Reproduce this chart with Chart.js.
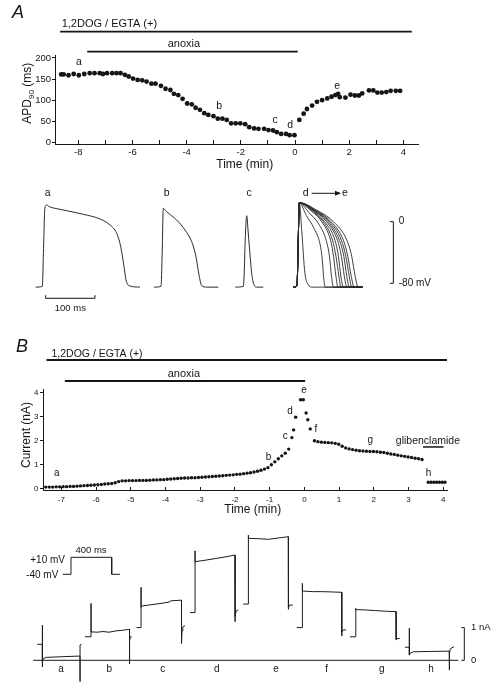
<!DOCTYPE html>
<html><head><meta charset="utf-8">
<script src="https://cdn.jsdelivr.net/npm/chart.js@4.4.1/dist/chart.umd.min.js"></script>
<style>
html,body{margin:0;padding:0;background:#fff;}
body{width:498px;height:690px;position:relative;overflow:hidden;}
canvas{position:absolute;left:0;}
</style></head><body>
<canvas id="cA" width="460" height="182" style="top:0px"></canvas>
<canvas id="cTA" width="460" height="135" style="top:185px"></canvas>
<canvas id="cB" width="470" height="185" style="top:335px"></canvas>
<canvas id="cTB" width="498" height="165" style="top:525px"></canvas>
<script>
// ================= DATA =================
// Panel A : APD90 (ms) vs time (min)
const apdTime = [-8.63,-8.54,-8.36,-8.17,-7.98,-7.78,-7.58,-7.40,-7.21,-7.09,-6.94,-6.75,-6.59,-6.44,-6.28,-6.14,-5.98,-5.81,-5.64,-5.48,-5.30,-5.15,-4.95,-4.78,-4.60,-4.47,-4.31,-4.15,-3.98,-3.81,-3.67,-3.51,-3.35,-3.20,-3.01,-2.85,-2.68,-2.52,-2.36,-2.19,-2.02,-1.84,-1.69,-1.51,-1.35,-1.14,-0.98,-0.81,-0.67,-0.51,-0.33,-0.20,-0.02,0.16,0.32,0.44,0.63,0.81,1.00,1.19,1.35,1.49,1.59,1.65,1.86,2.05,2.21,2.36,2.48,2.73,2.89,3.04,3.20,3.37,3.53,3.72,3.88];
const apdValue = [161,161,159,162,159,162,164,164,164,162,164,164,164,164,160,156,151,148,147,144,139,139,134,127,124,115,112,103,92,90,82,77,69,65,62,56,56,53,45,45,45,43,36,33,32,32,29,28,24,20,20,17,17,53,68,79,87,96,100,104,108,112,115,107,106,113,111,111,116,123,123,118,118,119,122,122,122];
const apdLabels = ['a','b','c','d','e'];
const apdLabelTime = [-7.98,-2.80,-0.73,-0.18,1.56];
const apdLabelValue = [190,87,53,40,133];
const apdTicksX = [-8,-7,-6,-5,-4,-3,-2,-1,0,1,2,3,4];
const apdTickLabelsX = [-8,-6,-4,-2,0,2,4];
const apdTicksY = [0,50,100,150,200];

// Panel B : current (nA) vs time (min)
const curTime = [-7.45,-7.35,-7.25,-7.15,-7.05,-6.95,-6.85,-6.75,-6.65,-6.55,-6.45,-6.35,-6.25,-6.15,-6.05,-5.95,-5.85,-5.75,-5.65,-5.55,-5.45,-5.35,-5.25,-5.15,-5.05,-4.95,-4.85,-4.75,-4.65,-4.55,-4.45,-4.35,-4.25,-4.15,-4.05,-3.95,-3.85,-3.75,-3.65,-3.55,-3.45,-3.35,-3.25,-3.15,-3.05,-2.95,-2.85,-2.75,-2.65,-2.55,-2.45,-2.35,-2.25,-2.15,-2.05,-1.95,-1.85,-1.75,-1.65,-1.55,-1.45,-1.35,-1.25,-1.15,-1.05,-0.95,-0.85,-0.75,-0.65,-0.55,-0.45,
  -0.36,-0.31,-0.25,-0.11,-0.03,0.05,0.10,0.17,
  0.29,0.39,0.49,0.59,0.69,0.79,0.89,0.99,1.09,1.19,1.29,1.39,1.49,1.59,1.69,1.79,1.89,1.99,2.09,2.19,2.29,2.39,2.49,2.59,2.69,2.79,2.89,2.99,3.09,3.19,3.29,3.39,
  3.57,3.65,3.73,3.81,3.89,3.97,4.05];
const curValue = [0.07,0.07,0.07,0.08,0.08,0.09,0.09,0.10,0.10,0.11,0.12,0.13,0.14,0.15,0.16,0.17,0.18,0.20,0.21,0.22,0.25,0.30,0.33,0.33,0.34,0.34,0.34,0.35,0.35,0.35,0.36,0.37,0.37,0.38,0.38,0.40,0.41,0.42,0.43,0.44,0.45,0.45,0.46,0.46,0.47,0.48,0.49,0.50,0.51,0.52,0.53,0.54,0.56,0.57,0.58,0.60,0.61,0.63,0.65,0.67,0.70,0.73,0.77,0.82,0.88,1.00,1.12,1.25,1.37,1.48,1.65,
  2.13,2.45,2.98,3.70,3.70,3.15,2.87,2.49,
  2.00,1.96,1.94,1.93,1.92,1.91,1.89,1.85,1.77,1.70,1.66,1.63,1.60,1.58,1.57,1.56,1.55,1.55,1.54,1.52,1.51,1.48,1.45,1.43,1.40,1.37,1.35,1.32,1.30,1.27,1.25,1.22,
  0.27,0.27,0.27,0.27,0.27,0.27,0.27];
const curLabels = ['a','b','c','d','e','f','g','h'];
const curLabelTime = [-7.13,-1.03,-0.55,-0.41,-0.01,0.33,1.90,3.58];
const curLabelValue = [0.63,1.33,2.20,3.24,4.10,2.49,2.00,0.63];
const curTicksX = [-7,-6,-5,-4,-3,-2,-1,0,1,2,3,4];
const curTicksY = [0,1,2,3,4];

// Treatments (min)
const treatNames = ['1,2DOG / EGTA (+)','anoxia'];
const treatStartA = [-8.67,-7.67], treatEndA = [4.31,0.10];
const treatStartB = [-7.43,-6.90], treatEndB = [4.11,0.02];
const glibName = 'glibenclamide', glibStart = 3.42, glibEnd = 4.01;

// Action potentials (ms from upstroke, mV)
const apA_t = [-14.2,-0.8,1.6,4.3,8.1,12.8,35.1,48.7,82.4,116.2,136.5,150,158.2,164.9,168.9,177,197.3];
const apA_v = [-85,-84,-35,17.8,21.7,19.7,16.1,14.3,9.6,3.5,-4.3,-15,-32.5,-58.4,-75.7,-83.5,-85];
const apB_t = [-15.6,-1.4,1,3.2,10.1,30.4,47.3,60.9,69.6,75.7,81.1,91.3,114.9];
const apB_v = [-85,-84,-40,17.4,13,2.2,-10.8,-26,-45.5,-69.2,-83,-85,-85];
const apC_t = [-17.2,-1,1,2.8,5.9,8.5,11.2,16,20.7,26.2,39.6];
const apC_v = [-85,-84,-62.7,-23.8,7.8,-10.8,-32.5,-67,-82.2,-85,-85];
const apDE_t = [
  [-9.5,-2,0,2.6,7.5,14,21,28,131],
  [-9.5,-2,0,2.6,17,32,45,49,52,55,131],
  [-9.5,-2,0,2.6,22,42,58,64,68,72,131],
  [-9.5,-2,0,2.6,25,48,66,72,77,81,131],
  [-9.5,-2,0,2.6,27,51,70,77,83,87,131],
  [-9.5,-2,0,2.6,29,54,75,82,87,92,131],
  [-9.5,-2,0,2.6,31,58,80,88,94,99,131],
  [-9.5,-2,0,2.6,32,61,84,93,99,104,131],
  [-9.5,-2,0,2.6,34,64,88,97,104,109,131],
  [-9.5,-2,0,2.6,35,67,92,101,108,114,131],
  [-9.5,-2,0,2.6,38,72,99,109,116,122,131]
];
const apDE_v = [
  [-85,-83,-40,24.7,-11,-67,-82,-85,-85],
  [-85,-83,-40,24.7,8,-8,-30,-48,-72,-85,-85],
  [-85,-83,-40,24.7,12,-3,-26,-46,-71,-85,-85],
  [-85,-83,-40,24.7,15,0,-24,-45,-71,-85,-85],
  [-85,-83,-40,24.7,15,0,-24,-45,-71,-85,-85],
  [-85,-83,-40,24.7,15,0,-24,-45,-71,-85,-85],
  [-85,-83,-40,24.7,15,0,-24,-45,-71,-85,-85],
  [-85,-83,-40,24.7,15,0,-24,-45,-71,-85,-85],
  [-85,-83,-40,24.7,15,0,-24,-45,-71,-85,-85],
  [-85,-83,-40,24.7,15,0,-24,-45,-71,-85,-85],
  [-85,-83,-40,24.7,15,0,-24,-45,-71,-85,-85]
];
const apNames = ['a','b','c','d','e'];

// Membrane currents (ms from step onset, nA)
const imA_t = [-50,0,0,1,3,10,40,200,377,377,378,392];
const imA_v = [0.49,0.49,1.08,-0.2,-0.05,0.05,0.09,0.11,0.13,-0.65,0.47,0.49];
const imB_t = [-60,0,0,1,60,120,180,250,320,385,385,386,395,407];
const imB_v = [0.72,0.72,1.74,0.87,0.86,0.88,0.86,0.90,0.92,0.95,-0.11,0.62,0.72,0.72];
const imC_t = [-45,0,0,1,10,100,200,280,300,405,405,410,418,440];
const imC_v = [1.0,1.0,2.23,1.62,1.66,1.70,1.74,1.78,1.82,1.84,0.52,0.90,1.02,1.06];
const imD_t = [-50,0,0,1,10,100,200,300,400,400,402,410,433];
const imD_v = [1.46,1.46,3.35,3.00,3.02,3.06,3.11,3.16,3.22,1.18,1.35,1.50,1.54];
const imE_t = [-50,0,0,2,100,200,300,400,400,403,415,444];
const imE_v = [1.72,1.72,3.83,3.73,3.72,3.70,3.74,3.78,1.56,1.62,1.69,1.69];
const imF_t = [-56,0,0,2,100,200,300,394,394,396,410,437];
const imF_v = [1.0,1.0,2.35,2.12,2.10,2.10,2.09,2.08,0.74,0.86,0.93,0.93];
const imG_t = [-57,0,0,2,100,200,300,403,403,406,440];
const imG_v = [0.72,0.72,1.59,1.55,1.54,1.52,1.50,1.49,0.62,0.66,0.67];
const imH_t = [-43,0,0,1,10,40,200,400,400,402,410,447];
const imH_v = [0.40,0.40,0.98,0.16,0.22,0.26,0.27,0.28,-0.30,0.20,0.35,0.42];
const imNames = ['a','b','c','d','e','f','g','h'];

// Voltage protocol (ms, mV)
const protT = [0,83,83,490,490,573];
const protV = [-40,-40,10,10,-40,-40];

// ================= LAYOUT / STYLE =================
const INK = '#151515';
const FONT = "'Liberation Sans', Arial, Helvetica, sans-serif";
Chart.defaults.font.family = FONT;
Chart.defaults.color = INK;
const apOffsets = [25.8, 267.1, 433.7, 543.6];          // placement of each AP (ms on shared axis)
const imOffsets = [123, 610, 1110, 1650, 2183, 2723, 3257, 3793]; // placement of each current trace
const protOffset = 327;

function txt(ctx, s, x, y, size, align, opts) {
  opts = opts || {};
  ctx.save();
  ctx.font = (opts.italic ? 'italic ' : '') + size + 'px ' + FONT;
  ctx.fillStyle = INK; ctx.textAlign = align || 'center'; ctx.textBaseline = 'middle';
  if (opts.rotate) { ctx.translate(x, y); ctx.rotate(opts.rotate); ctx.fillText(s, 0, 0); }
  else ctx.fillText(s, x, y);
  ctx.restore();
}
function seg(ctx, x1, y1, x2, y2, w) {
  ctx.save(); ctx.strokeStyle = INK; ctx.lineWidth = w || 1;
  ctx.beginPath(); ctx.moveTo(x1, y1); ctx.lineTo(x2, y2); ctx.stroke(); ctx.restore();
}
const base = {responsive:false, animation:false, devicePixelRatio:1, events:[],
  plugins:{legend:{display:false}, tooltip:{enabled:false}}};

// ================= PANEL A : APD90 =================
const overlayA = {id:'ovA', afterDraw(chart){
  const ctx = chart.ctx, xs = chart.scales.x, ys = chart.scales.y;
  txt(ctx, 'A', 18, 13, 18, 'center', {italic:true});
  const rowY = [31.7, 51.7];
  for (let i = 0; i < treatNames.length; i++)
    seg(ctx, xs.getPixelForValue(treatStartA[i]), rowY[i], xs.getPixelForValue(treatEndA[i]), rowY[i], 1.8);
  txt(ctx, treatNames[0], xs.getPixelForValue(treatStartA[0]) + 1.5, 24.3, 11, 'left');
  txt(ctx, treatNames[1], xs.getPixelForValue(-4.1), 44.3, 11);
  apdLabels.forEach((l, i) => txt(ctx, l, xs.getPixelForValue(apdLabelTime[i]), ys.getPixelForValue(apdLabelValue[i]), 10.5));
  txt(ctx, 'Time (min)', 244.7, 164.3, 12);
  // y title APD90 (ms)
  ctx.save(); ctx.translate(26.7, 93.3); ctx.rotate(-Math.PI/2);
  ctx.fillStyle = INK; ctx.textBaseline = 'alphabetic'; ctx.textAlign = 'left';
  ctx.font = '12px ' + FONT; const w1 = ctx.measureText('APD').width, w3 = ctx.measureText(' (ms)').width;
  ctx.font = '8px ' + FONT; const w2 = ctx.measureText('90').width;
  let x0 = -(w1 + w2 + w3) / 2;
  ctx.font = '12px ' + FONT; ctx.fillText('APD', x0, 4.5);
  ctx.font = '8px ' + FONT; ctx.fillText('90', x0 + w1, 7.5);
  ctx.font = '12px ' + FONT; ctx.fillText(' (ms)', x0 + w1 + w2, 4.5);
  ctx.restore();
}};
new Chart(document.getElementById('cA'), {
  type:'scatter',
  data:{datasets:[{data: apdTime.map((t, i) => ({x:t, y:apdValue[i]})),
    pointRadius:2.4, pointHoverRadius:2.4, backgroundColor:INK, borderWidth:0, clip:false}]},
  options:Object.assign({}, base, {
    layout:{padding:{top:55, right:42, bottom:0, left:0}},
    scales:{
      x:{type:'linear', min:-8.86, max:4.54,
        afterBuildTicks:s => { s.ticks = apdTicksX.map(v => ({value:v})); },
        afterFit:s => { s.height = 38; },
        ticks:{autoSkip:false, maxRotation:0, padding:7, font:{size:9.5}, color:INK,
          callback:v => apdTickLabelsX.includes(v) ? String(v) : ''},
        grid:{drawOnChartArea:false, drawTicks:true, tickLength:-4, color:INK, lineWidth:1},
        border:{display:true, color:INK, width:1}},
      y:{type:'linear', min:-4, max:207,
        afterBuildTicks:s => { s.ticks = apdTicksY.map(v => ({value:v})); },
        afterFit:s => { s.width = 55; },
        ticks:{autoSkip:false, padding:1, font:{size:9.5}, color:INK},
        grid:{drawOnChartArea:false, drawTicks:true, tickLength:3, color:INK, lineWidth:1},
        border:{display:true, color:INK, width:1}}
    }}),
  plugins:[overlayA]
});

// ================= PANEL A : action potentials =================
function traceSet(ts, vs, off, smooth, w) {
  return {data: ts.map((t, i) => ({x:t + off, y:vs[i]})), showLine:true, borderColor:'#2a2a2a',
    borderWidth:w || 1, pointRadius:0, pointHoverRadius:0, tension:0,
    cubicInterpolationMode: smooth ? 'monotone' : 'default', fill:false};
}
const apSets = [traceSet(apA_t, apA_v, apOffsets[0], true), traceSet(apB_t, apB_v, apOffsets[1], true),
  traceSet(apC_t, apC_v, apOffsets[2], true)];
apDE_t.forEach((ts, k) => apSets.push(traceSet(ts, apDE_v[k], apOffsets[3], true, 0.9)));
const overlayTA = {id:'ovTA', afterDraw(chart){
  const ctx = chart.ctx, xs = chart.scales.x, ys = chart.scales.y;
  const X = v => xs.getPixelForValue(v), Y = v => ys.getPixelForValue(v);
  const ly = Y(36.9);
  txt(ctx, 'a', X(35.9), ly, 10.5); txt(ctx, 'b', X(277.3), ly, 10.5); txt(ctx, 'c', X(444.2), ly, 10.5);
  txt(ctx, 'd', X(559.2), ly, 10.5); txt(ctx, 'e', X(639), ly, 10.5);
  seg(ctx, X(571.4), ly, X(628.8), ly, 1);
  ctx.save(); ctx.fillStyle = INK; ctx.beginPath();
  ctx.moveTo(X(628.8) + 1, ly); ctx.lineTo(X(628.8) - 5, ly - 2.5); ctx.lineTo(X(628.8) - 5, ly + 2.5); ctx.closePath(); ctx.fill(); ctx.restore();
  // 100 ms bar
  seg(ctx, X(31.8), Y(-99.5), X(131.8), Y(-99.5), 1);
  seg(ctx, X(31.8), Y(-99.5), X(31.8), Y(-95.5), 1);
  seg(ctx, X(131.8), Y(-99.5), X(131.8), Y(-95.5), 1);
  txt(ctx, '100 ms', X(81.8), Y(-112.5), 9.5);
  // voltage bar
  seg(ctx, X(737), Y(0), X(737), Y(-80), 1);
  seg(ctx, X(730), Y(0), X(737), Y(0), 1);
  seg(ctx, X(730), Y(-80), X(737), Y(-80), 1);
  txt(ctx, '0', X(748), Y(0), 10, 'left');
  txt(ctx, '-80 mV', X(748), Y(-80), 10, 'left');
}};
new Chart(document.getElementById('cTA'), {
  type:'scatter', data:{datasets:apSets},
  options:Object.assign({}, base, {layout:{padding:0},
    scales:{x:{type:'linear', display:false, min:-60.9, max:872.2}, y:{type:'linear', display:false, min:-127.7, max:47.7}}}),
  plugins:[overlayTA]
});

// ================= PANEL B : current =================
const overlayB = {id:'ovB', afterDraw(chart){
  const ctx = chart.ctx, xs = chart.scales.x, ys = chart.scales.y;
  txt(ctx, 'B', 22, 12, 18, 'center', {italic:true});
  const rowY = [25, 46];
  for (let i = 0; i < treatNames.length; i++)
    seg(ctx, xs.getPixelForValue(treatStartB[i]), rowY[i], xs.getPixelForValue(treatEndB[i]), rowY[i], 1.8);
  txt(ctx, treatNames[0], xs.getPixelForValue(treatStartB[0]) + 5, 19.3, 10.5, 'left');
  txt(ctx, treatNames[1], xs.getPixelForValue(-3.47), 39.3, 11);
  curLabels.forEach((l, i) => txt(ctx, l, xs.getPixelForValue(curLabelTime[i]), ys.getPixelForValue(curLabelValue[i]), 10));
  txt(ctx, glibName, xs.getPixelForValue(3.56), ys.getPixelForValue(2.0), 10.5);
  seg(ctx, xs.getPixelForValue(glibStart), ys.getPixelForValue(1.74), xs.getPixelForValue(glibEnd), ys.getPixelForValue(1.74), 1.5);
  txt(ctx, 'Time (min)', 252.7, 174.3, 12);
  txt(ctx, 'Current (nA)', 27, 100, 12, 'center', {rotate:-Math.PI/2});
}};
new Chart(document.getElementById('cB'), {
  type:'scatter',
  data:{datasets:[{data: curTime.map((t, i) => ({x:t, y:curValue[i]})),
    pointRadius:1.7, pointHoverRadius:1.7, backgroundColor:INK, borderWidth:0, clip:false}]},
  options:Object.assign({}, base, {
    layout:{padding:{top:54, right:23, bottom:0, left:0}},
    scales:{
      x:{type:'linear', min:-7.53, max:4.11,
        afterBuildTicks:s => { s.ticks = curTicksX.map(v => ({value:v})); },
        afterFit:s => { s.height = 30; },
        ticks:{autoSkip:false, maxRotation:0, padding:7.5, font:{size:8}, color:INK},
        grid:{drawOnChartArea:false, drawTicks:true, tickLength:-3, color:INK, lineWidth:1},
        border:{display:true, color:INK, width:1}},
      y:{type:'linear', min:-0.05, max:4.15,
        afterBuildTicks:s => { s.ticks = curTicksY.map(v => ({value:v})); },
        afterFit:s => { s.width = 43; },
        ticks:{autoSkip:false, padding:1.5, font:{size:8}, color:INK},
        grid:{drawOnChartArea:false, drawTicks:true, tickLength:3, color:INK, lineWidth:1},
        border:{display:true, color:INK, width:1}}
    }}),
  plugins:[overlayB]
});

// ================= PANEL B : current traces =================
const imT = [imA_t, imB_t, imC_t, imD_t, imE_t, imF_t, imG_t, imH_t];
const imV = [imA_v, imB_v, imC_v, imD_v, imE_v, imF_v, imG_v, imH_v];
const imSets = imT.map((ts, k) => { const d = traceSet(ts, imV[k], imOffsets[k], false, 1); d.borderColor = '#1c1c1c'; return d; });
imSets.push({data:[{x:33, y:0}, {x:4283, y:0}], showLine:true, borderColor:'#1c1c1c', borderWidth:1, pointRadius:0, tension:0});
const protSet = traceSet(protT, protV, protOffset, false, 1); protSet.yAxisID = 'yv'; protSet.borderColor = '#1c1c1c';
imSets.push(protSet);
const overlayTB = {id:'ovTB', afterDraw(chart){
  const ctx = chart.ctx, xs = chart.scales.x, ys = chart.scales.y, yv = chart.scales.yv;
  const X = v => xs.getPixelForValue(v), Y = v => ys.getPixelForValue(v), YV = v => yv.getPixelForValue(v);
  imNames.forEach((n, k) => txt(ctx, n, X([310, 793, 1327, 1867, 2460, 2967, 3517, 4010][k]), Y(-0.275), 10));
  seg(ctx, X(4343), Y(0), X(4343), Y(1), 1);
  seg(ctx, X(4313), Y(0), X(4343), Y(0), 1);
  seg(ctx, X(4313), Y(1), X(4343), Y(1), 1);
  txt(ctx, '1 nA', X(4410), Y(1), 9.5, 'left');
  txt(ctx, '0', X(4410), Y(0), 9.5, 'left');
  txt(ctx, '+10 mV', X(350), YV(2), 10, 'right');
  txt(ctx, '-40 mV', X(283), YV(-44), 10, 'right');
  txt(ctx, '400 ms', X(610), YV(29), 9.5);
}};
new Chart(document.getElementById('cTB'), {
  type:'scatter', data:{datasets:imSets},
  options:Object.assign({}, base, {layout:{padding:0},
    scales:{x:{type:'linear', display:false, min:-300, max:4680},
      y:{type:'linear', display:false, min:-0.908, max:4.138},
      yv:{type:'linear', display:false, position:'right', min:-380.3, max:105}}}),
  plugins:[overlayTB]
});
</script>
</body></html>
